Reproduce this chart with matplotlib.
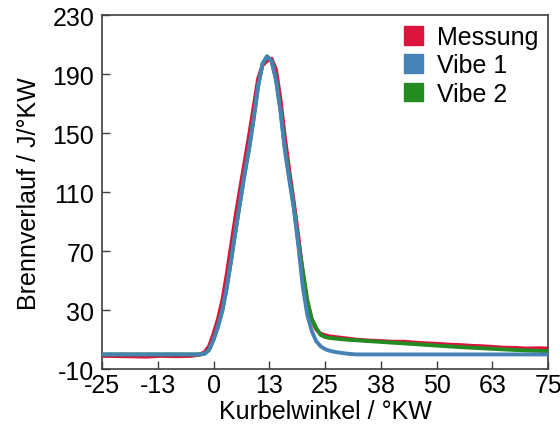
import matplotlib.pyplot as plt
from matplotlib.patches import Patch

# Kurbelwinkel in °KW und Brennverlauf in J/°KW
messung_x = [-25, -20, -15, -12, -8, -5, -4, -3, -2, -1, 0, 1, 2, 3, 4, 5, 6, 7, 8, 9,
             10, 11, 12, 13, 14, 15, 16, 17, 18, 19, 20, 21, 22, 23, 24, 25, 26, 28,
             30, 32, 35, 38, 40, 43, 45, 48, 50, 53, 55, 58, 60, 63, 65, 68, 70, 73, 75]
messung_y = [-1, -1.2, -1.5, -1, -1.2, -1, -0.5, 0, 1.5, 5.5, 14, 24, 37, 55, 75, 95,
             113, 131, 149, 168, 187, 196, 199, 200.5, 193, 173, 147, 124, 103, 80, 55,
             36, 24, 17, 14, 13, 12.3, 11.5, 10.8, 10, 9.4, 9, 8.6, 8.6, 8, 7.5, 7.2, 6.6,
             6.4, 5.8, 5.6, 5, 4.6, 4.4, 4.0, 4.2, 4]

vibe1_x = [-25, -3, -2, -1, 0, 1, 2, 3, 4, 5, 6, 7, 8, 9, 10, 11, 12, 13, 14, 15, 16,
           17, 18, 19, 20, 21, 22, 23, 24, 25, 26, 27, 28, 30, 32, 75]
vibe1_y = [0, 0, 0.5, 3, 10, 19, 30, 46, 65, 85, 104, 123, 140, 160, 182, 197, 202, 199,
           186, 165, 138, 118, 99, 74, 46, 27, 16, 9, 5.5, 3.6, 2.5, 1.8, 1.3, 0.5, 0, 0]

vibe2_x = [-25, -3, -2, -1, 0, 1, 2, 3, 4, 5, 6, 7, 8, 9, 10, 11, 12, 13, 14, 15, 16,
           17, 18, 19, 20, 21, 22, 23, 24, 25, 26, 28, 30, 35, 40, 45, 50, 55, 60, 65,
           70, 75]
vibe2_y = [0, 0, 0.5, 3, 10, 19, 30, 46, 65, 85, 104, 123, 140, 160, 182, 197, 202, 199,
           187, 166, 140, 120, 100, 76, 57, 37, 24, 18, 13.2, 11.8, 11.2, 10.5, 10, 9, 8,
           7, 6, 5, 4.2, 3.4, 2.7, 2.2]

x_ticks = [-25, -12.5, 0, 12.5, 25, 37.5, 50, 62.5, 75]
x_labels = ["-25", "-13", "0", "13", "25", "38", "50", "63", "75"]
y_ticks = [-10, 30, 70, 110, 150, 190, 230]

rot = "#DC143C"
blau = "#4682B4"
gruen = "#228B22"

plt.rcParams["font.family"] = ["Liberation Sans", "DejaVu Sans"]
plt.rcParams["font.size"] = 18
plt.rcParams["axes.unicode_minus"] = False

fig = plt.figure(figsize=(5.6, 4.35), dpi=100)
ax = fig.add_axes([0.182, 0.149, 0.797, 0.814])

ax.plot(messung_x, messung_y, color=rot, lw=2.8, zorder=2)
ax.plot(vibe2_x, vibe2_y, color=gruen, lw=2.8, zorder=3)
ax.plot(vibe1_x, vibe1_y, color=blau, lw=2.8, zorder=4)

ax.set_xlim(-25, 75)
ax.set_ylim(-10, 230)
ax.set_xticks(x_ticks)
ax.set_xticklabels(x_labels)
ax.set_yticks(y_ticks)
ax.tick_params(direction="in", length=6, width=1, color="#404040")
ax.tick_params(axis="x", pad=3)
ax.tick_params(axis="y", pad=5.5)
for s in ax.spines.values():
    s.set_color("#404040")
    s.set_linewidth(1.2)

ax.set_xlabel("Kurbelwinkel / °KW", labelpad=1)
ax.set_ylabel("Brennverlauf / J/°KW", labelpad=8)

handles = [Patch(color=rot, label="Messung"),
           Patch(color=blau, label="Vibe 1"),
           Patch(color=gruen, label="Vibe 2")]
ax.legend(handles=handles, loc="upper right", frameon=False, handlelength=0.75,
          handleheight=0.75, handletextpad=0.55, labelspacing=0.17,
          borderaxespad=0.0, fontsize=18)

fig.savefig("out.png", dpi=100)
